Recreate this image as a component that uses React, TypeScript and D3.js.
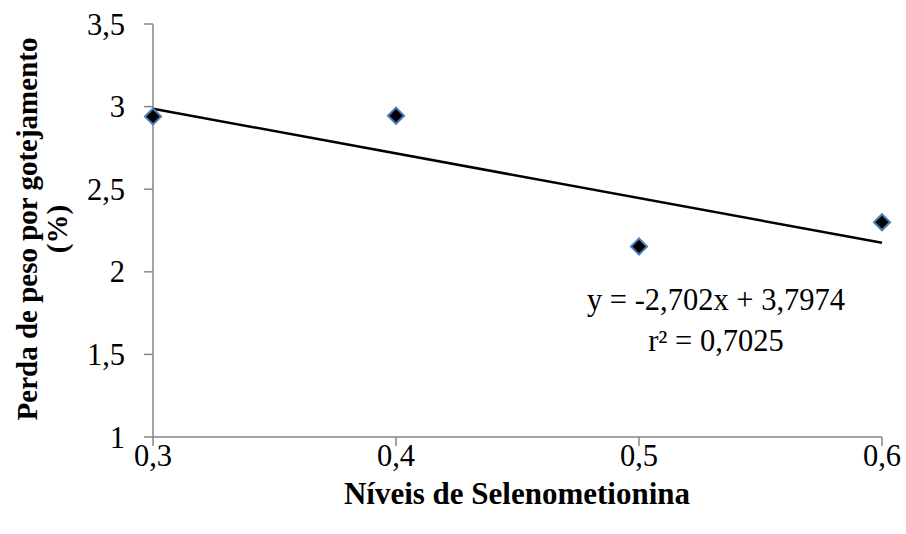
import React from "react";
import * as d3 from "d3";

const xValues = [0.3, 0.4, 0.5, 0.6];
const yValues = [2.94, 2.945, 2.153, 2.3];
const xTicks = [0.3, 0.4, 0.5, 0.6];
const yTicks = [1, 1.5, 2, 2.5, 3, 3.5];
const slope = -2.702;
const intercept = 3.7974;
const equationLines = ["y = -2,702x + 3,7974", "r² = 0,7025"];
const xTitle = "Níveis de Selenometionina";
const yTitleLines = ["Perda de peso por gotejamento", "(%)"];

const W = 906;
const H = 534;
const fmt = (v: number) => String(v).replace(".", ",");

export default function App() {
  const x = d3.scaleLinear().domain([0.3, 0.6]).range([153, 882]);
  const y = d3.scaleLinear().domain([1, 3.5]).range([437, 24]);
  const axisColor = "#868686";
  const font = "'Times New Roman', 'Liberation Serif', Tinos, serif";
  const diamond = d3.symbol().type(d3.symbolDiamond2).size(165)();
  const trend = d3.line<number>().x((d) => x(d)).y((d) => y(slope * d + intercept));
  const fs = 30.5;

  return (
    <svg width={W} height={H} style={{ position: "absolute", left: 0, top: 0, background: "#fff", fontFamily: font }}>
      <rect width={W} height={H} fill="#fff" />
      <line x1={x(0.3)} x2={x(0.3)} y1={y(3.5)} y2={y(1)} stroke={axisColor} strokeWidth={1.5} />
      <line x1={x(0.3)} x2={x(0.6)} y1={y(1)} y2={y(1)} stroke={axisColor} strokeWidth={1.5} />
      {yTicks.map((t) => (
        <g key={"y" + t}>
          <line x1={x(0.3) - 9} x2={x(0.3)} y1={y(t)} y2={y(t)} stroke={axisColor} strokeWidth={1.5} />
          <text x={125} y={y(t)} dy="0.35em" textAnchor="end" fontSize={fs} fill="#000" style={{ fontFamily: font }}>
            {fmt(t)}
          </text>
        </g>
      ))}
      {xTicks.map((t) => (
        <g key={"x" + t}>
          <line x1={x(t)} x2={x(t)} y1={y(1)} y2={y(1) + 9} stroke={axisColor} strokeWidth={1.5} />
          <text x={x(t)} y={466} textAnchor="middle" fontSize={fs} fill="#000" style={{ fontFamily: font }}>
            {fmt(t)}
          </text>
        </g>
      ))}
      <path d={trend([0.3, 0.6]) || ""} fill="none" stroke="#000" strokeWidth={2.5} />
      {xValues.map((xv, i) => (
        <path
          key={"p" + i}
          d={diamond || ""}
          transform={`translate(${x(xv)},${y(yValues[i])})`}
          fill="#000"
          stroke="#4a7ebb"
          strokeWidth={2}
        />
      ))}
      <text x={716} y={310} textAnchor="middle" fontSize={fs} fill="#000" style={{ fontFamily: font }}>
        {equationLines[0]}
      </text>
      <text x={716} y={351} textAnchor="middle" fontSize={fs} fill="#000" style={{ fontFamily: font }}>
        {equationLines[1]}
      </text>
      <text x={517} y={504} textAnchor="middle" fontSize={31} fontWeight="bold" fill="#000" style={{ fontFamily: font }}>
        {xTitle}
      </text>
      <g transform="translate(37,229) rotate(-90)">
        <text x={0} y={0} textAnchor="middle" fontSize={29} fontWeight="bold" fill="#000" style={{ fontFamily: font }}>
          {yTitleLines[0]}
        </text>
        <text x={0} y={30} textAnchor="middle" fontSize={29} fontWeight="bold" fill="#000" style={{ fontFamily: font }}>
          {yTitleLines[1]}
        </text>
      </g>
    </svg>
  );
}
